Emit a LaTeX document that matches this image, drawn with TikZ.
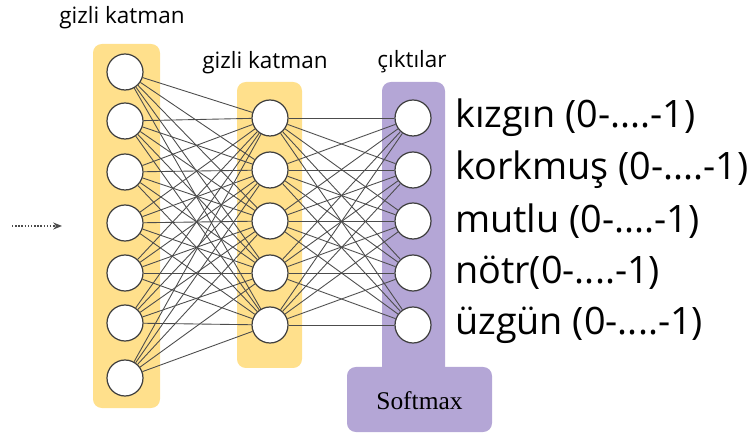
\documentclass[tikz,border=0pt]{standalone}
\usepackage{fontspec}
\setmainfont{Open Sans}
\newfontfamily\softfont{Liberation Serif}
\usetikzlibrary{arrows.meta}
\definecolor{katman}{RGB}{255,224,140}
\definecolor{cikti}{RGB}{180,166,214}
\tikzset{
	neuron/.style={circle,draw=black!75,fill=white,line width=0.7pt,minimum size=0.72cm,inner sep=0pt},
	layerbox/.style={rounded corners=5pt},
	link/.style={draw=black!70,line width=0.5pt},
	title/.style={font=\fontsize{12.8}{15}\selectfont},
	outlabel/.style={anchor=west,font=\fontsize{21.5}{24}\selectfont}
}

\begin{document}
\begin{tikzpicture}[x=0.02cm,y=-0.02cm]
	\useasboundingbox (0,0) rectangle (747,435);
	% layer backgrounds
	\fill[katman,layerbox] (93,44) rectangle (160,408);
	\fill[katman,layerbox] (237,82) rectangle (302,368);
	\fill[cikti,layerbox] (382,82) rectangle (445,380);
	\fill[cikti,layerbox] (347,367) rectangle (492,432);
	\node[font=\softfont\fontsize{14.5}{16}\selectfont] (softmax) at (419.5,401) {Softmax};

	% titles
	\node[title] (t1) at (122,18) {gizli katman};
	\node[title] (t2) at (265,63) {gizli katman};
	\node[title] (t3) at (412,62) {çıktılar};

	% neurons
	\foreach \y [count=\i] in {72,121,172,223,273,323,378}
		\node[neuron] (i\i) at (125,\y) {};
	\foreach \y [count=\i] in {118,170,221,273,325}{
		\node[neuron] (h\i) at (270,\y) {};
		\node[neuron] (o\i) at (413,\y) {};
	}

	% output labels
	\node[outlabel] (l1) at (449,118) {kızgın (0-....-1)};
	\node[outlabel] (l2) at (449,170) {korkmuş (0-....-1)};
	\node[outlabel] (l3) at (449,221) {mutlu (0-....-1)};
	\node[outlabel] (l4) at (449,273) {nötr(0-....-1)};
	\node[outlabel] (l5) at (449,325) {üzgün (0-....-1)};

	% connections
	\foreach \a in {1,...,7}
		\foreach \b in {1,...,5}
			\draw[link] (i\a) -- (h\b);
	\foreach \a in {1,...,5}
		\foreach \b in {1,...,5}
			\draw[link] (h\a) -- (o\b);

	% input arrow
	\coordinate (in0) at (12,226);
	\coordinate (in1) at (62,226);
	\draw[black!70,densely dotted,line width=0.8pt,-{Stealth[length=5pt,width=4pt]}] (in0) -- (in1);
\end{tikzpicture}
\end{document}
